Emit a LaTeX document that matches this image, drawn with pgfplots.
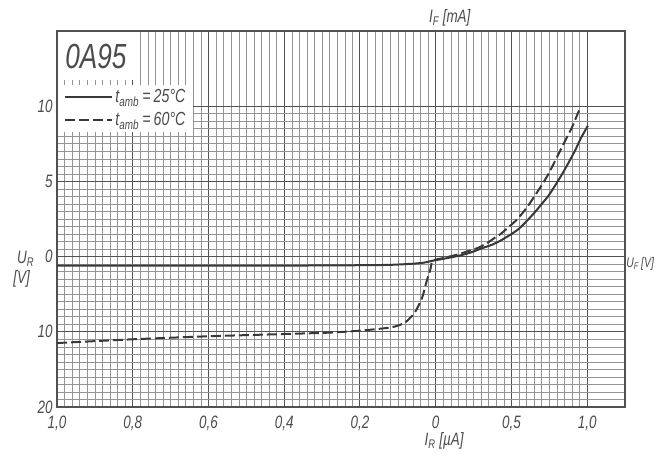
\documentclass[border=0pt]{standalone}
\usepackage{fontspec}
\setmainfont{Liberation Sans}[FakeStretch=0.75]
\usepackage{pgfplots}
\pgfplotsset{compat=1.18}
\definecolor{ink}{gray}{0.3}
\definecolor{curve}{gray}{0.22}
\definecolor{gmaj}{gray}{0.32}
\definecolor{gmin}{gray}{0.58}

\begin{document}
\begin{tikzpicture}
\begin{axis}[
  scale only axis, width=568bp, height=376bp,
  xmin=-5, xmax=2.5, ymin=-2, ymax=3,
  xtick={-5,-4,-3,-2,-1,0,1,2},
  xticklabels={{1,0},{0,8},{0,6},{0,4},{0,2},0,{0,5},{1,0}},
  ytick={-2,-1,0,1,2},
  yticklabels={20,10,0,5,10},
  minor x tick num=9, minor y tick num=9,
  grid=both,
  major grid style={gmaj, line width=1bp},
  minor grid style={gmin, line width=0.55bp},
  axis line style={gmaj, line width=1.3bp},
  major tick length=0pt, minor tick length=0pt,
  tick label style={font=\fontsize{18}{18}\selectfont\itshape, text=ink},
  /pgf/number format/assume math mode=true,
  xticklabel style={yshift=-5bp},
  yticklabel style={xshift=-1bp},
  clip=false,
  legend style={at={(axis cs:-4.985,2.29)}, anchor=north west, draw=none,
    fill=white, font=\fontsize{19}{19}\selectfont\itshape, text=ink,
    row sep=4bp, inner xsep=6bp, inner ysep=3bp,
    /tikz/every even column/.append style={column sep=4bp}},
  legend cell align=left,
  legend image code/.code={\draw[#1] (0bp,0bp) -- (47bp,0bp);},
]
% 25 C
\addplot[curve, line width=2bp, smooth, tension=0.4] coordinates {
  (-5,-0.12) (-4,-0.12) (-3,-0.12) (-2,-0.12) (-1,-0.115) (-0.6,-0.11)
  (-0.3,-0.095) (-0.15,-0.08) (-0.04,-0.055) (0.1,-0.03) (0.3,0.01)
  (0.45,0.05) (0.61,0.11) (0.75,0.16) (0.87,0.22) (1.0,0.3) (1.1,0.37)
  (1.2,0.47) (1.31,0.59) (1.4,0.70) (1.49,0.81) (1.58,0.95) (1.66,1.08)
  (1.75,1.24) (1.84,1.41) (1.92,1.58) (2.01,1.74)
};
\addlegendentry{t\textsubscript{amb}\,=\,25°C}
% 60 C
\addplot[curve, line width=2bp, dash pattern=on 10bp off 4bp, smooth, tension=0.4] coordinates {
  (-5,-1.15) (-4,-1.10) (-3,-1.06) (-2,-1.03) (-1.37,-1.01) (-0.94,-0.98)
  (-0.58,-0.94) (-0.41,-0.88) (-0.28,-0.75) (-0.18,-0.55) (-0.12,-0.33)
  (-0.07,-0.17) (-0.04,-0.055) (0.1,-0.02) (0.3,0.03) (0.45,0.08)
  (0.57,0.12) (0.68,0.18) (0.78,0.25) (0.87,0.31) (0.96,0.39) (1.05,0.47)
  (1.14,0.57) (1.23,0.69) (1.31,0.81) (1.4,0.95) (1.49,1.10) (1.57,1.26)
  (1.66,1.44) (1.73,1.58) (1.80,1.72) (1.90,1.96)
};
\addlegendentry{t\textsubscript{amb}\,=\,60°C}

\node[anchor=north west, fill=white, minimum width=75bp, minimum height=48bp,
  inner sep=0pt, font=\fontsize{35}{35}\selectfont\itshape, text=ink]
  at (axis cs:-4.985,2.985) {0A95};
\node[anchor=base west, inner sep=0pt, font=\fontsize{18}{18}\selectfont\itshape, text=ink]
  at (axis cs:-0.09,3.11) {I\textsubscript{F} [mA]};
\node[anchor=base west, inner sep=0pt, font=\fontsize{14}{14}\selectfont\itshape, text=ink]
  at (axis cs:2.515,-0.14) {U\textsubscript{F}\,[V]};
\node[anchor=base west, inner sep=0pt, font=\fontsize{18}{18}\selectfont\itshape, text=ink]
  at (axis cs:-0.15,-2.51) {I\textsubscript{R} [µA]};
\node[anchor=base west, inner sep=0pt, font=\fontsize{18}{18}\selectfont\itshape, text=ink]
  at (axis cs:-5.53,-0.09) {U\textsubscript{R}};
\node[anchor=base west, inner sep=0pt, font=\fontsize{18}{18}\selectfont\itshape, text=ink]
  at (axis cs:-5.58,-0.36) {[V]};

\coordinate (bl) at (rel axis cs:-0.1004,-0.1303);
\coordinate (tr) at (rel axis cs:1.0563,1.0824);
\end{axis}
\pgfresetboundingbox
\path[use as bounding box] (bl) rectangle (tr);
\end{tikzpicture}
\end{document}
